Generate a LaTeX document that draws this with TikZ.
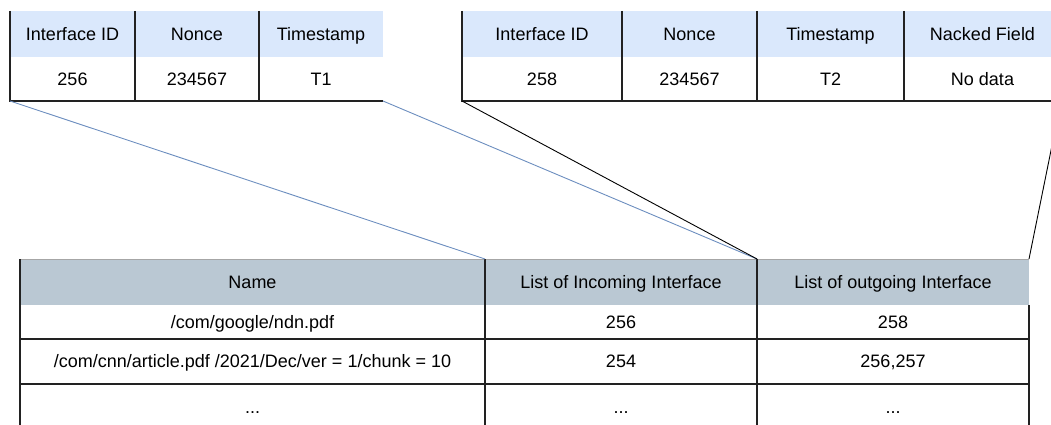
\documentclass[tikz,border=0pt]{standalone}
\usepackage{fontspec}
\setmainfont{Liberation Sans}
\definecolor{hdrblue}{HTML}{DAE8FC}
\definecolor{hdrgray}{HTML}{BAC8D3}
\definecolor{linkblue}{HTML}{6C8EBF}
\definecolor{rule}{HTML}{222222}
\tikzset{
  cell/.style={rectangle, inner sep=0pt, outer sep=0pt, anchor=north west,
    font=\fontsize{18}{21}\selectfont, text height=12.9pt, text depth=0pt},
  dims/.style args={#1/#2}{minimum width=#1pt, minimum height=#2pt},
  hdrA/.style={cell, fill=hdrblue},
  hdrB/.style={cell, fill=hdrgray},
  border/.style={draw=rule, line width=1.2pt},
  bluelink/.style={draw=linkblue, line width=0.9pt},
  blacklink/.style={draw=black, line width=0.9pt},
}
\begin{document}
\begin{tikzpicture}[x=1pt, y=-1pt]
\useasboundingbox (0,0) rectangle (1051,425);
\clip (0,0) rectangle (1051,425);

% ---- table 1 ----
\node[hdrA, dims=125/46] (a11) at (10,11) {Interface ID};
\node[hdrA, dims=124/46] (a12) at (135,11) {Nonce};
\node[hdrA, dims=124/46] (a13) at (259,11) {Timestamp};
\node[cell, dims=125/44] (a21) at (10,57) {256};
\node[cell, dims=124/44] (a22) at (135,57) {234567};
\node[cell, dims=124/44] (a23) at (259,57) {T1};
\draw[border] (a11.north west) -- (a21.south west) -- (a23.south east);
\draw[border] (a11.north east) -- (a21.south east);
\draw[border] (a12.north east) -- (a22.south east);

% ---- table 2 ----
\node[hdrA, dims=160/46] (b11) at (462,11) {Interface ID};
\node[hdrA, dims=135/46] (b12) at (622,11) {Nonce};
\node[hdrA, dims=147/46] (b13) at (757,11) {Timestamp};
\node[hdrA, dims=157/46] (b14) at (904,11) {Nacked Field};
\node[cell, dims=160/44] (b21) at (462,57) {258};
\node[cell, dims=135/44] (b22) at (622,57) {234567};
\node[cell, dims=147/44] (b23) at (757,57) {T2};
\node[cell, dims=157/44] (b24) at (904,57) {No data};
\draw[border] (b11.north west) -- (b21.south west) -- (b24.south east);
\draw[border] (b11.north east) -- (b21.south east);
\draw[border] (b12.north east) -- (b22.south east);
\draw[border] (b13.north east) -- (b23.south east);

% ---- bottom table ----
\node[hdrB, dims=465/46] (c11) at (20,259) {Name};
\node[hdrB, dims=272/46] (c12) at (485,259) {List of Incoming Interface};
\node[hdrB, dims=272/46] (c13) at (757,259) {List of outgoing Interface};
\node[cell, dims=465/34] (c21) at (20,305) {/com/google/ndn.pdf};
\node[cell, dims=272/34] (c22) at (485,305) {256};
\node[cell, dims=272/34] (c23) at (757,305) {258};
\node[cell, dims=465/45] (c31) at (20,339) {/com/cnn/article.pdf /2021/Dec/ver = 1/chunk = 10};
\node[cell, dims=272/45] (c32) at (485,339) {254};
\node[cell, dims=272/45] (c33) at (757,339) {256,257};
\node[cell, dims=465/46] (c41) at (20,384) {...};
\node[cell, dims=272/46] (c42) at (485,384) {...};
\node[cell, dims=272/46] (c43) at (757,384) {...};
\draw[draw=gray!70, line width=0.6pt] (c11.north west) -- (c13.north east);
\draw[border] (c11.north west) -- (c41.south west);
\draw[border] (c11.north east) -- (c41.south east);
\draw[border] (c12.north east) -- (c42.south east);
\draw[border] (c23.north east) -- (c43.south east);
\draw[border] (c21.south west) -- (c23.south east);
\draw[border] (c31.south west) -- (c33.south east);

% ---- connectors ----
\draw[bluelink] (a21.south west) -- (c11.north east);
\draw[bluelink] (a23.south east) -- (c12.north east);
\draw[blacklink] (b21.south west) -- (c12.north east);
\draw[blacklink] (c13.north east) -- (b24.south east);
\end{tikzpicture}
\end{document}
